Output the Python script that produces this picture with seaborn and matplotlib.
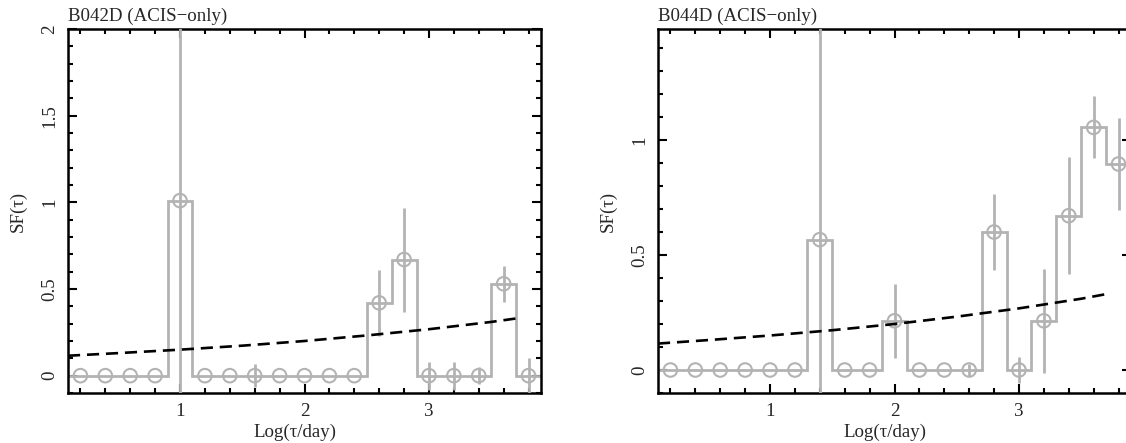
import numpy as np
import pandas as pd
import matplotlib
matplotlib.use("Agg")
import matplotlib.pyplot as plt
from matplotlib.ticker import MultipleLocator, FuncFormatter
import seaborn as sns

# ---- data -----------------------------------------------------------------
# bin centres in log10(lag / day), shared by both sources
log_tau = [0.2, 0.4, 0.6, 0.8, 1.0, 1.2, 1.4, 1.6, 1.8, 2.0,
           2.2, 2.4, 2.6, 2.8, 3.0, 3.2, 3.4, 3.6, 3.8]

# structure function and its 1-sigma error, B042D
sf_b042d = [0, 0, 0, 0, 1.01, 0, 0, 0, 0, 0,
            0, 0, 0.42, 0.67, 0, 0, 0, 0.53, 0]
err_b042d = [0, 0, 0, 0, 1.2, 0, 0, 0.065, 0, 0,
             0, 0, 0.19, 0.30, 0.08, 0.08, 0.05, 0.105, 0.10]

# structure function and its 1-sigma error, B044D
sf_b044d = [0, 0, 0, 0, 0, 0, 0.567, 0, 0, 0.214,
            0, 0, 0, 0.60, 0, 0.214, 0.671, 1.055, 0.896]
err_b044d = [0, 0, 0, 0, 0, 0, 1.2, 0, 0, 0.16,
             0, 0, 0.025, 0.165, 0.055, 0.225, 0.255, 0.135, 0.20]

# ensemble power-law model
model_log_tau = [0.1, 0.5, 1.0, 1.5, 2.0, 2.5, 3.0, 3.5, 3.73]
model_sf = [0.115, 0.130, 0.150, 0.173, 0.200, 0.232, 0.268, 0.310, 0.333]

panels = [
    ("B042D (ACIS\u2212only)", sf_b042d, err_b042d, (-0.1, 2.0), [0, 0.5, 1, 1.5, 2]),
    ("B044D (ACIS\u2212only)", sf_b044d, err_b044d, (-0.1, 1.483), [0, 0.5, 1]),
]

x_major = [1, 2, 3]
x_limits = (0.1, 3.9)
bin_half_width = 0.1

# ---- style ----------------------------------------------------------------
sns.set_style("white")
plt.rcParams["font.family"] = ["Liberation Serif", "DejaVu Serif"]
FS = 13.6
GRAY = "#b3b3b3"

fig = plt.figure(figsize=(11.26, 4.43), dpi=100)
ax_rects = [[68 / 1126, 50 / 443, 473 / 1126, 364 / 443],
            [658 / 1126, 50 / 443, 473 / 1126, 364 / 443]]

for rect, (title, sf, err, ylim, yticks) in zip(ax_rects, panels):
    ax = fig.add_axes(rect)
    df = pd.DataFrame({"log_tau": log_tau, "sf": sf, "err": err})

    # stepped outline of the binned structure function
    centres = df["log_tau"].to_numpy()
    edges = np.append(centres - bin_half_width, centres[-1] + bin_half_width)
    ax.stairs(df["sf"].to_numpy(), edges, color=GRAY, linewidth=2.0, zorder=2)

    # error bars where measured
    has_err = df[df["err"] > 0]
    ax.errorbar(has_err["log_tau"], has_err["sf"], yerr=has_err["err"],
                fmt="none", ecolor=GRAY, elinewidth=2.0, capsize=0, zorder=3)

    # open circles at bin centres
    sns.scatterplot(data=df, x="log_tau", y="sf", marker="o", s=95,
                    ax=ax, zorder=4, legend=False)
    pts = ax.collections[-1]
    pts.set_facecolor("none")
    pts.set_edgecolor(GRAY)
    pts.set_linewidth(1.5)

    # model curve
    sns.lineplot(x=model_log_tau, y=model_sf, ax=ax, color="black",
                 linewidth=1.9, linestyle=(0, (4.6, 2.6)), errorbar=None,
                 zorder=5)

    ax.set_xlim(*x_limits)
    ax.set_ylim(*ylim)

    ax.xaxis.set_minor_locator(MultipleLocator(0.2))
    ax.set_xticks(x_major)
    ax.yaxis.set_minor_locator(MultipleLocator(0.1))
    ax.set_yticks(yticks)
    fmt = FuncFormatter(lambda v, _: f"{v:g}")
    ax.xaxis.set_major_formatter(fmt)
    ax.yaxis.set_major_formatter(fmt)

    for sp in ax.spines.values():
        sp.set_visible(True)
        sp.set_linewidth(1.8)
        sp.set_color("black")

    ax.tick_params(which="both", direction="in", top=True, right=True,
                   bottom=True, left=True, labeltop=False, labelright=False,
                   width=1.5, color="black", labelsize=FS)
    ax.tick_params(which="major", length=6.5)
    ax.tick_params(which="minor", length=3.6)
    ax.tick_params(axis="x", which="major", pad=7)
    ax.tick_params(axis="y", which="major", pad=7, labelrotation=90)
    plt.setp(ax.get_yticklabels(), va="center")

    ax.set_xlabel("Log(\u03c4/day)", fontsize=FS)
    ax.set_ylabel("SF(\u03c4)", fontsize=FS)
    ax.xaxis.set_label_coords(0.479, -0.083)
    ax.yaxis.set_label_coords(-0.088, 0.5)
    ax.set_title(title, loc="left", fontsize=FS, pad=6.0)

fig.savefig("out.png", dpi=100)
